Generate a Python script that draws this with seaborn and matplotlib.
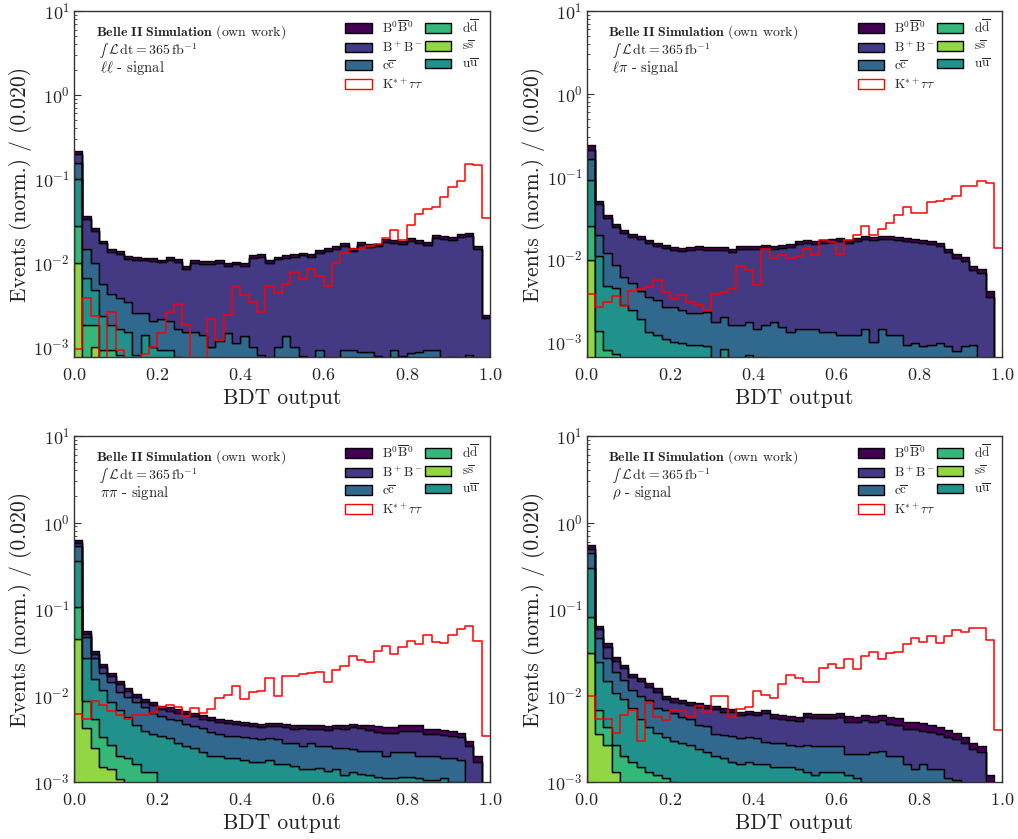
import numpy as np
import pandas as pd
import matplotlib
matplotlib.use("Agg")
import matplotlib.pyplot as plt
from matplotlib.patches import Patch
from matplotlib.ticker import AutoMinorLocator, LogLocator, NullFormatter
import seaborn as sns

# ---------------- data (cumulative stack levels, bins of 0.02) ----------------
# ll - signal
ll_lvl_b0b0 = [0.213, 0.0363, 0.0258, 0.0182, 0.0145, 0.0138, 0.0120, 0.0117, 0.0115, 0.0113,
               0.0109, 0.0118, 0.0111, 0.0091, 0.0107, 0.0105, 0.0105, 0.0107, 0.0099, 0.0103,
               0.0099, 0.0124, 0.0126, 0.0108, 0.0118, 0.0124, 0.0126, 0.0132, 0.0126, 0.0141,
               0.0149, 0.0158, 0.0171, 0.0149, 0.0175, 0.0166, 0.0169, 0.0190, 0.0185, 0.0179,
               0.0196, 0.0185, 0.0174, 0.0213, 0.0207, 0.0200, 0.0217, 0.0225, 0.0158, 0.0024]
ll_lvl_bpbm = [0.200, 0.0335, 0.0240, 0.0170, 0.0135, 0.0128, 0.0111, 0.0108, 0.0107, 0.0105,
               0.0101, 0.0109, 0.0103, 0.0085, 0.0099, 0.0097, 0.0097, 0.0099, 0.0092, 0.0096,
               0.0092, 0.0115, 0.0117, 0.0100, 0.0110, 0.0115, 0.0117, 0.0123, 0.0117, 0.0131,
               0.0139, 0.0147, 0.0159, 0.0139, 0.0163, 0.0154, 0.0157, 0.0177, 0.0172, 0.0166,
               0.0182, 0.0172, 0.0162, 0.0198, 0.0193, 0.0186, 0.0202, 0.0209, 0.0147, 0.0022]
ll_lvl_cc = [0.154, 0.0147, 0.0100, 0.0055, 0.00425, 0.0038, 0.0034, 0.0025, 0.0025, 0.0020,
             0.0021, 0.0020, 0.0016, 0.0015, 0.0015, 0.00138, 0.0010, 0.00115, 0.00145, 0.0011,
             0.00135, 0.0010, 0.0008, 0.0005, 0.0010, 0.00132, 0.0010, 0.00078, 0.0005, 0.00091,
             0.0005, 0.0007, 0.0009, 0.0009, 0.00087, 0.00087, 0.00078, 0.0006, 0.0009, 0.00078,
             0.00083, 0.00087, 0.0009, 0.0009, 0.0006, 0.00076, 0.0007, 0.0008, 0.0005, 0.0004]
ll_lvl_uu = [0.100, 0.0065, 0.0047, 0.0023, 0.0018, 0.0016, 0.0015, 0.0008, 0.00138, 0.0010,
             0.0009, 0.0009, 0.00076, 0.0006, 0.0006, 0.0005, 0.0005, 0.0005, 0.0005, 0.0005,
             0.0005, 0.0005, 0.0005, 0.0004, 0.0005, 0.0005, 0.0005, 0.0005, 0.0004, 0.0005,
             0.0004, 0.0005, 0.0005, 0.0005, 0.0005, 0.0005, 0.0005, 0.0004, 0.0005, 0.0005,
             0.0005, 0.0005, 0.0005, 0.0005, 0.0004, 0.0005, 0.0005, 0.0005, 0.0004, 0.0003]
ll_lvl_dd = [0.0275, 0.0018, 0.0018, 0.0009, 0.0009, 0.0008, 0.0007, 0.0005, 0.0004, 0.0004,
             0.0003, 0.0003, 0.0003, 0.0003, 0.0003, 0.0003, 0.0003, 0.0003, 0.0003, 0.0003,
             0.0003, 0.0003, 0.0003, 0.0003, 0.0003, 0.0003, 0.0003, 0.0003, 0.0003, 0.0003,
             0.0003, 0.0003, 0.0003, 0.0003, 0.0003, 0.0003, 0.0003, 0.0003, 0.0003, 0.0003,
             0.0003, 0.0003, 0.0003, 0.0003, 0.0003, 0.0003, 0.0003, 0.0003, 0.0003, 0.0002]
ll_lvl_ss = [0.0100, 0.0007, 0.0010, 0.0004, 0.0003, 0.0003, 0.0002, 0.0002, 0.0002, 0.0002,
             0.0002, 0.0002, 0.0002, 0.0002, 0.0002, 0.0002, 0.0002, 0.0002, 0.0002, 0.0002,
             0.0002, 0.0002, 0.0002, 0.0002, 0.0002, 0.0002, 0.0002, 0.0002, 0.0002, 0.0002,
             0.0002, 0.0002, 0.0002, 0.0002, 0.0002, 0.0002, 0.0002, 0.0002, 0.0002, 0.0002,
             0.0002, 0.0002, 0.0002, 0.0002, 0.0002, 0.0002, 0.0002, 0.0002, 0.0002, 0.0001]
ll_ktt = [0.00093, 0.0038, 0.0023, 0.0, 0.0026, 0.00091, 0.0, 0.0, 0.00082, 0.0010,
          0.00145, 0.0026, 0.0032, 0.0018, 0.0, 0.0, 0.0021, 0.0012, 0.0024, 0.0051,
          0.0041, 0.0034, 0.0026, 0.0053, 0.0043, 0.0056, 0.0078, 0.0063, 0.0085, 0.0069,
          0.0052, 0.0100, 0.0130, 0.0145, 0.0145, 0.0156, 0.0168, 0.0196, 0.0245, 0.0185,
          0.0283, 0.0378, 0.0437, 0.0458, 0.0600, 0.0790, 0.0950, 0.1500, 0.1470, 0.0340]

# l pi - signal
lpi_lvl_b0b0 = [0.237, 0.050, 0.0344, 0.0267, 0.0226, 0.0200, 0.0188, 0.0168, 0.0156, 0.0146,
                0.0140, 0.0136, 0.0138, 0.0142, 0.0138, 0.0138, 0.0138, 0.0132, 0.0142, 0.0145,
                0.0142, 0.0146, 0.0145, 0.0146, 0.0152, 0.0163, 0.0171, 0.0163, 0.0171, 0.0174,
                0.0179, 0.0171, 0.0179, 0.0191, 0.0183, 0.0188, 0.0191, 0.0185, 0.0179, 0.0176,
                0.0171, 0.0163, 0.0156, 0.0132, 0.0115, 0.0106, 0.0083, 0.0076, 0.0041, 0.0]
lpi_lvl_bpbm = [0.210, 0.046, 0.0317, 0.0246, 0.0208, 0.0184, 0.0173, 0.0155, 0.0144, 0.0134,
                0.0129, 0.0125, 0.0127, 0.0131, 0.0127, 0.0127, 0.0127, 0.0121, 0.0131, 0.0133,
                0.0131, 0.0134, 0.0133, 0.0134, 0.0140, 0.0150, 0.0157, 0.0150, 0.0157, 0.0160,
                0.0165, 0.0157, 0.0165, 0.0176, 0.0168, 0.0173, 0.0176, 0.0170, 0.0165, 0.0162,
                0.0157, 0.0150, 0.0144, 0.0121, 0.0102, 0.0094, 0.0073, 0.0067, 0.0035, 0.0]
lpi_lvl_cc = [0.162, 0.0197, 0.0118, 0.0085, 0.0061, 0.0051, 0.0041, 0.0035, 0.0032, 0.0026,
              0.0026, 0.0024, 0.0022, 0.0022, 0.0023, 0.0017, 0.0020, 0.0016, 0.0016, 0.0017,
              0.0014, 0.0016, 0.0017, 0.0015, 0.0013, 0.0014, 0.0014, 0.0014, 0.0013, 0.0013,
              0.0012, 0.0012, 0.0012, 0.0014, 0.0010, 0.0014, 0.0012, 0.0012, 0.0009, 0.00095,
              0.00088, 0.0009, 0.00095, 0.00088, 0.00076, 0.00088, 0.0009, 0.0005, 0.0004, 0.0]
lpi_lvl_uu = [0.091, 0.0108, 0.0047, 0.0045, 0.0028, 0.0024, 0.0019, 0.0013, 0.0012, 0.00106,
              0.0010, 0.00095, 0.0009, 0.0009, 0.00088, 0.0005, 0.00082, 0.0006, 0.0005, 0.00069,
              0.0005, 0.0005, 0.0005, 0.0005, 0.0005, 0.0005, 0.0005, 0.0005, 0.0005, 0.0005,
              0.0005, 0.0005, 0.0005, 0.0005, 0.0005, 0.0005, 0.0005, 0.0005, 0.0005, 0.0005,
              0.0005, 0.0005, 0.0005, 0.0005, 0.0004, 0.0005, 0.0005, 0.0004, 0.0003, 0.0]
lpi_lvl_dd = [0.0248, 0.00133, 0.0008, 0.0007, 0.0005, 0.0004, 0.0004, 0.0004, 0.0004, 0.0004,
              0.0003, 0.0003, 0.0003, 0.0003, 0.0003, 0.0003, 0.0003, 0.0003, 0.0003, 0.0003,
              0.0003, 0.0003, 0.0003, 0.0003, 0.0003, 0.0003, 0.0003, 0.0003, 0.0003, 0.0003,
              0.0003, 0.0003, 0.0003, 0.0003, 0.0003, 0.0003, 0.0003, 0.0003, 0.0003, 0.0003,
              0.0003, 0.0003, 0.0003, 0.0003, 0.0003, 0.0003, 0.0003, 0.0003, 0.0002, 0.0]
lpi_lvl_ss = [0.0098, 0.0005, 0.0004, 0.0003, 0.0002, 0.0002, 0.0002, 0.0002, 0.0002, 0.0002,
              0.0002, 0.0002, 0.0002, 0.0002, 0.0002, 0.0002, 0.0002, 0.0002, 0.0002, 0.0002,
              0.0002, 0.0002, 0.0002, 0.0002, 0.0002, 0.0002, 0.0002, 0.0002, 0.0002, 0.0002,
              0.0002, 0.0002, 0.0002, 0.0002, 0.0002, 0.0002, 0.0002, 0.0002, 0.0002, 0.0002,
              0.0002, 0.0002, 0.0002, 0.0002, 0.0002, 0.0002, 0.0002, 0.0002, 0.0001, 0.0]
lpi_ktt = [0.0038, 0.0026, 0.0030, 0.0036, 0.0027, 0.0041, 0.0043, 0.0046, 0.0055, 0.0040,
           0.0033, 0.0037, 0.0030, 0.0028, 0.0024, 0.0038, 0.0040, 0.0043, 0.0083, 0.0074,
           0.0049, 0.0132, 0.0103, 0.0110, 0.0103, 0.0108, 0.0132, 0.0113, 0.0168, 0.0162,
           0.0116, 0.0168, 0.0193, 0.0248, 0.0192, 0.0231, 0.0273, 0.0343, 0.0425, 0.0360,
           0.0360, 0.0484, 0.0498, 0.0536, 0.0584, 0.0757, 0.0757, 0.0868, 0.0832, 0.0136]

# pi pi - signal
pipi_lvl_b0b0 = [0.62, 0.056, 0.033, 0.0234, 0.0182, 0.0148, 0.0122, 0.0104, 0.0092, 0.0085,
                 0.0076, 0.0073, 0.0069, 0.0066, 0.0063, 0.0059, 0.0057, 0.0054, 0.0052, 0.0051,
                 0.0050, 0.0048, 0.0047, 0.0048, 0.0048, 0.0047, 0.0045, 0.0046, 0.0045, 0.0045,
                 0.0044, 0.0046, 0.0045, 0.0047, 0.0046, 0.0045, 0.0044, 0.0043, 0.0043, 0.0045,
                 0.0045, 0.0045, 0.0041, 0.0041, 0.0040, 0.0039, 0.0037, 0.0030, 0.0020, 0.0]
pipi_lvl_bpbm = [0.58, 0.052, 0.030, 0.0215, 0.0168, 0.0136, 0.0113, 0.0096, 0.0085, 0.0078,
                 0.0070, 0.0067, 0.0063, 0.0061, 0.0058, 0.0054, 0.0052, 0.0050, 0.0048, 0.0047,
                 0.0046, 0.0044, 0.0043, 0.0044, 0.0044, 0.0043, 0.0041, 0.0042, 0.0041, 0.0041,
                 0.0040, 0.0042, 0.0041, 0.0043, 0.0042, 0.0040, 0.0038, 0.0037, 0.0037, 0.0039,
                 0.0039, 0.0039, 0.0036, 0.0036, 0.0035, 0.0034, 0.0033, 0.0026, 0.0017, 0.0]
pipi_lvl_cc = [0.53, 0.048, 0.0269, 0.0184, 0.0145, 0.0111, 0.0097, 0.0083, 0.0074, 0.0063,
               0.0058, 0.0054, 0.0052, 0.0047, 0.0044, 0.0042, 0.0038, 0.0036, 0.0034, 0.0034,
               0.0033, 0.0032, 0.0031, 0.0032, 0.0031, 0.0028, 0.0028, 0.0026, 0.0028, 0.0026,
               0.0026, 0.0025, 0.0025, 0.0024, 0.0023, 0.0023, 0.0023, 0.0020, 0.0022, 0.0022,
               0.0022, 0.0020, 0.0020, 0.0020, 0.0019, 0.0019, 0.0018, 0.0009, 0.0008, 0.0]
pipi_lvl_uu = [0.36, 0.0269, 0.0154, 0.0116, 0.0085, 0.0068, 0.0056, 0.0046, 0.0039, 0.0036,
               0.0034, 0.0032, 0.0028, 0.0026, 0.0025, 0.0022, 0.0020, 0.0020, 0.0019, 0.0019,
               0.0018, 0.0017, 0.0017, 0.0018, 0.0016, 0.0016, 0.00155, 0.0014, 0.0014, 0.00145,
               0.00135, 0.0014, 0.0012, 0.0013, 0.00125, 0.0012, 0.00115, 0.0011, 0.0011, 0.00115,
               0.00115, 0.0011, 0.00105, 0.00105, 0.0011, 0.0010, 0.0010, 0.0008, 0.0007, 0.0]
pipi_lvl_dd = [0.105, 0.0087, 0.0054, 0.0033, 0.0027, 0.0020, 0.0019, 0.0016, 0.0013, 0.0013,
               0.0009, 0.0008, 0.0008, 0.0007, 0.0007, 0.0006, 0.0006, 0.0006, 0.0006, 0.0006,
               0.0005, 0.0005, 0.0005, 0.0005, 0.0005, 0.0005, 0.0005, 0.0005, 0.0005, 0.0005,
               0.0005, 0.0005, 0.0005, 0.0005, 0.0005, 0.0005, 0.0005, 0.0005, 0.0005, 0.0005,
               0.0005, 0.0005, 0.0005, 0.0005, 0.0005, 0.0005, 0.0004, 0.0004, 0.0003, 0.0]
pipi_lvl_ss = [0.045, 0.0042, 0.0025, 0.0015, 0.0014, 0.00107, 0.0007, 0.0005, 0.0004, 0.0004,
               0.0003, 0.0003, 0.0003, 0.0003, 0.0003, 0.0003, 0.0003, 0.0003, 0.0003, 0.0003,
               0.0003, 0.0003, 0.0003, 0.0003, 0.0003, 0.0003, 0.0003, 0.0003, 0.0003, 0.0003,
               0.0003, 0.0003, 0.0003, 0.0003, 0.0003, 0.0003, 0.0003, 0.0003, 0.0003, 0.0003,
               0.0003, 0.0003, 0.0003, 0.0003, 0.0003, 0.0003, 0.0003, 0.0003, 0.0002, 0.0]
pipi_ktt = [0.0061, 0.0053, 0.0087, 0.0078, 0.0067, 0.0060, 0.0054, 0.0060, 0.0060, 0.0062,
            0.0074, 0.0078, 0.0073, 0.0058, 0.0072, 0.0062, 0.0070, 0.0093, 0.0101, 0.0129,
            0.0090, 0.0109, 0.0112, 0.0158, 0.0099, 0.0168, 0.0166, 0.0178, 0.0180, 0.0189,
            0.0145, 0.0195, 0.0222, 0.0290, 0.0254, 0.0243, 0.0331, 0.0378, 0.0303, 0.0362,
            0.0424, 0.0396, 0.0494, 0.0413, 0.0406, 0.0502, 0.0580, 0.0644, 0.0432, 0.0034]

# rho - signal
rho_lvl_b0b0 = [0.55, 0.064, 0.040, 0.0277, 0.0226, 0.0178, 0.0161, 0.0138, 0.0121, 0.0099,
                0.0093, 0.0089, 0.0085, 0.0081, 0.0078, 0.0076, 0.0071, 0.0070, 0.0065, 0.0067,
                0.0065, 0.0068, 0.0061, 0.0060, 0.0058, 0.0057, 0.0062, 0.0061, 0.0061, 0.0061,
                0.0062, 0.0058, 0.0057, 0.0060, 0.0058, 0.0060, 0.0056, 0.0055, 0.0050, 0.0050,
                0.0048, 0.0046, 0.0043, 0.0040, 0.0037, 0.0033, 0.0028, 0.0026, 0.0012, 0.0]
rho_lvl_bpbm = [0.50, 0.058, 0.036, 0.0252, 0.0206, 0.0162, 0.0146, 0.0126, 0.0110, 0.0090,
                0.0085, 0.0081, 0.0077, 0.0074, 0.0071, 0.0069, 0.0065, 0.0064, 0.0059, 0.0061,
                0.0059, 0.0062, 0.0055, 0.0054, 0.0052, 0.0051, 0.0056, 0.0055, 0.0055, 0.0055,
                0.0056, 0.0050, 0.0049, 0.0052, 0.0050, 0.0052, 0.0047, 0.0046, 0.0041, 0.0041,
                0.0039, 0.0038, 0.0036, 0.0033, 0.0031, 0.0028, 0.0024, 0.0022, 0.0010, 0.0]
rho_lvl_cc = [0.448, 0.0458, 0.0269, 0.0189, 0.0151, 0.0116, 0.0099, 0.0089, 0.0071, 0.0068,
              0.0062, 0.0057, 0.0053, 0.0046, 0.0044, 0.0036, 0.0035, 0.0034, 0.0032, 0.0033,
              0.0032, 0.0029, 0.0028, 0.0028, 0.0027, 0.0026, 0.0027, 0.0026, 0.0026, 0.0026,
              0.0026, 0.0021, 0.0021, 0.0021, 0.0022, 0.0023, 0.0020, 0.0020, 0.0016, 0.0014,
              0.0016, 0.0014, 0.0014, 0.0011, 0.00105, 0.0008, 0.0008, 0.0006, 0.0005, 0.0]
rho_lvl_uu = [0.295, 0.0246, 0.0148, 0.0106, 0.0090, 0.0071, 0.0053, 0.0043, 0.0037, 0.0033,
              0.0030, 0.0028, 0.0027, 0.0024, 0.0022, 0.0020, 0.0019, 0.0017, 0.0016, 0.0017,
              0.0016, 0.0016, 0.0015, 0.0015, 0.0015, 0.0014, 0.0013, 0.0012, 0.0013, 0.0013,
              0.0013, 0.0012, 0.0011, 0.0009, 0.0008, 0.0008, 0.0007, 0.0007, 0.0006, 0.0006,
              0.0006, 0.0005, 0.0005, 0.0005, 0.0005, 0.0004, 0.0004, 0.0004, 0.0003, 0.0]
rho_lvl_dd = [0.0815, 0.0068, 0.0043, 0.0027, 0.0020, 0.0017, 0.0015, 0.0013, 0.0012, 0.0011,
              0.0010, 0.0008, 0.0007, 0.0007, 0.0006, 0.0006, 0.0006, 0.0006, 0.0005, 0.0005,
              0.0004, 0.0004, 0.0004, 0.0004, 0.0004, 0.0004, 0.0004, 0.0004, 0.0004, 0.0004,
              0.0004, 0.0004, 0.0004, 0.0004, 0.0004, 0.0004, 0.0004, 0.0004, 0.0004, 0.0004,
              0.0004, 0.0004, 0.0004, 0.0004, 0.0004, 0.0003, 0.0003, 0.0003, 0.0002, 0.0]
rho_lvl_ss = [0.0307, 0.0036, 0.0027, 0.0013, 0.0008, 0.0006, 0.0005, 0.0004, 0.0004, 0.0003,
              0.0003, 0.0003, 0.0003, 0.0003, 0.0003, 0.0003, 0.0003, 0.0003, 0.0003, 0.0003,
              0.0003, 0.0003, 0.0003, 0.0003, 0.0003, 0.0003, 0.0003, 0.0003, 0.0003, 0.0003,
              0.0003, 0.0003, 0.0003, 0.0003, 0.0003, 0.0003, 0.0003, 0.0003, 0.0003, 0.0003,
              0.0003, 0.0003, 0.0003, 0.0003, 0.0003, 0.0003, 0.0003, 0.0003, 0.0002, 0.0]
rho_ktt = [0.0099, 0.0054, 0.0054, 0.0037, 0.0060, 0.0068, 0.0030, 0.0081, 0.0056, 0.0052,
           0.0068, 0.0066, 0.0057, 0.0076, 0.0065, 0.0099, 0.0099, 0.0056, 0.0069, 0.0073,
           0.0114, 0.0101, 0.0093, 0.0136, 0.0173, 0.0158, 0.0145, 0.0145, 0.0210, 0.0229,
           0.0206, 0.0262, 0.0201, 0.0289, 0.0316, 0.0262, 0.0313, 0.0321, 0.0394, 0.0466,
           0.0420, 0.0488, 0.0400, 0.0493, 0.0572, 0.0547, 0.0597, 0.0600, 0.0440, 0.0040]

channel_labels = [r"$\ell\ell$ - signal", r"$\ell\pi$ - signal",
                  r"$\pi\pi$ - signal", r"$\rho$ - signal"]

# sample keys, bottom of stack first
stack_keys = ["ss", "dd", "uu", "cc", "bpbm", "b0b0"]
sample_labels = {
    "b0b0": r"$\mathrm{B^0\overline{B}^0}$",
    "bpbm": r"$\mathrm{B^+B^-}$",
    "cc": r"$\mathrm{c\overline{c}}$",
    "dd": r"$\mathrm{d\overline{d}}$",
    "ss": r"$\mathrm{s\overline{s}}$",
    "uu": r"$\mathrm{u\overline{u}}$",
}
ktt_label = r"$\mathrm{K^{*+}\tau\tau}$"

# ---------------- style ----------------
palette = {"b0b0": "#440154", "bpbm": "#443983", "cc": "#31688e",
           "uu": "#21918c", "dd": "#35b779", "ss": "#90d743"}

sns.set_theme(style="ticks")
plt.rcParams.update({
    "font.family": "serif",
    "font.serif": ["cmr10"],
    "mathtext.fontset": "cm",
    "axes.formatter.use_mathtext": True,
    "axes.unicode_minus": False,
    "axes.edgecolor": "#333333",
    "axes.linewidth": 1.0,
})

n_bins = 50
bin_range = (0.0, 1.0)
edges = np.linspace(bin_range[0], bin_range[1], n_bins + 1)
centers = 0.5 * (edges[:-1] + edges[1:])

panels = [
    dict(levels=[ll_lvl_ss, ll_lvl_dd, ll_lvl_uu, ll_lvl_cc, ll_lvl_bpbm, ll_lvl_b0b0],
         ktt=ll_ktt, text=channel_labels[0], ymin=7.5e-4,
         rect=(74 / 1018, 1 - 357 / 839, 416 / 1018, 346 / 839)),
    dict(levels=[lpi_lvl_ss, lpi_lvl_dd, lpi_lvl_uu, lpi_lvl_cc, lpi_lvl_bpbm, lpi_lvl_b0b0],
         ktt=lpi_ktt, text=channel_labels[1], ymin=6.5e-4,
         rect=(586.7 / 1018, 1 - 357 / 839, 415.6 / 1018, 346 / 839)),
    dict(levels=[pipi_lvl_ss, pipi_lvl_dd, pipi_lvl_uu, pipi_lvl_cc, pipi_lvl_bpbm, pipi_lvl_b0b0],
         ktt=pipi_ktt, text=channel_labels[2], ymin=1e-3,
         rect=(74 / 1018, 1 - 782 / 839, 416 / 1018, 346 / 839)),
    dict(levels=[rho_lvl_ss, rho_lvl_dd, rho_lvl_uu, rho_lvl_cc, rho_lvl_bpbm, rho_lvl_b0b0],
         ktt=rho_ktt, text=channel_labels[3], ymin=1e-3,
         rect=(586.7 / 1018, 1 - 782 / 839, 415.6 / 1018, 346 / 839)),
]

fig = plt.figure(figsize=(10.18, 8.39), dpi=100)

for p in panels:
    ax = fig.add_axes(p["rect"])
    lv = np.array(p["levels"], dtype=float)
    comps = np.clip(np.diff(lv, axis=0, prepend=0.0), 0.0, None)
    frames = []
    for key, vals in zip(stack_keys, comps):
        frames.append(pd.DataFrame({"x": centers, "w": vals, "sample": key}))
    df = pd.concat(frames, ignore_index=True)

    sns.histplot(data=df, x="x", weights="w", hue="sample",
                 hue_order=stack_keys[::-1], palette=palette,
                 multiple="stack", bins=n_bins, binrange=bin_range,
                 element="step", fill=True,
                 alpha=1.0, edgecolor="black", linewidth=1.0,
                 legend=False, ax=ax)
    df_k = pd.DataFrame({"x": centers, "w": np.asarray(p["ktt"], dtype=float)})
    sns.histplot(data=df_k, x="x", weights="w", bins=n_bins, binrange=bin_range,
                 element="step", fill=False, color="#ff0000", linewidth=1.1, ax=ax)

    ax.set_yscale("log")
    ax.set_xlim(0, 1)
    ax.set_ylim(p["ymin"], 10)
    ax.xaxis.set_minor_locator(AutoMinorLocator(4))
    ax.yaxis.set_major_locator(LogLocator(base=10, numticks=10))
    ax.yaxis.set_minor_locator(LogLocator(base=10, subs=np.arange(2, 10), numticks=20))
    ax.yaxis.set_minor_formatter(NullFormatter())
    ax.tick_params(which="both", direction="in", top=False, right=False, colors="#333333")
    ax.tick_params(which="major", length=5, width=0.8, labelsize=13, labelcolor="#222222")
    ax.tick_params(axis="x", which="major", pad=7)
    ax.tick_params(axis="y", which="major", pad=3)
    ax.tick_params(which="minor", length=2.5, width=0.6)
    ax.set_xlabel("BDT output", fontsize=15.5, color="#222222", labelpad=4)
    ax.set_ylabel("Events (norm.) / (0.020)", fontsize=15.5, color="#222222", labelpad=1)

    ax.text(0.052, 0.938, r"$\mathbf{Belle\ II\ Simulation}$ (own work)",
            transform=ax.transAxes, fontsize=10.0, va="center", ha="left", color="#222222")
    ax.text(0.060, 0.886, r"$\int$", math_fontfamily="stix",
            transform=ax.transAxes, fontsize=9.0, va="center", ha="left", color="#222222")
    ax.text(0.082, 0.887, r"$\mathcal{L}\,\mathrm{dt}=365\,\mathrm{fb}^{-1}$",
            transform=ax.transAxes, fontsize=10.0, va="center", ha="left", color="#222222")
    ax.text(0.062, 0.836, p["text"],
            transform=ax.transAxes, fontsize=10.5, va="center", ha="left", color="#222222")

    handles = [Patch(facecolor=palette[k], edgecolor="black", linewidth=1.0, label=sample_labels[k])
               for k in ["b0b0", "bpbm", "cc"]]
    handles.append(Patch(facecolor="white", edgecolor="#ff0000", linewidth=1.0, label=ktt_label))
    handles += [Patch(facecolor=palette[k], edgecolor="black", linewidth=1.0, label=sample_labels[k])
                for k in ["dd", "ss", "uu"]]
    ax.legend(handles=handles, ncol=2, loc="upper right", bbox_to_anchor=(0.972, 0.978),
              frameon=False, fontsize=9.5, handlelength=2.0, handleheight=0.75,
              handletextpad=0.8, columnspacing=0.1, labelspacing=0.33,
              borderpad=0.0, borderaxespad=0.0)

fig.savefig("out.png", dpi=100)
